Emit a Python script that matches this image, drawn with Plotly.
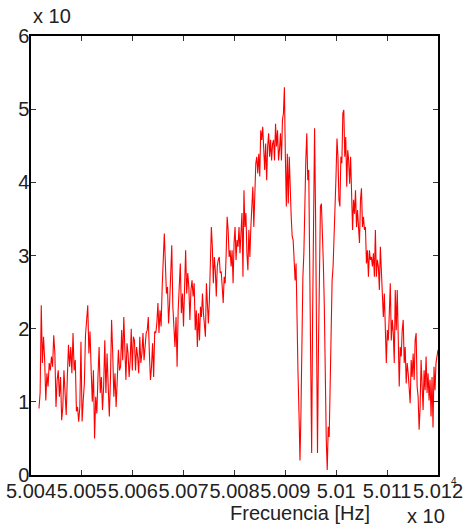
import numpy as np
import plotly.graph_objects as go

# Spectrum amplitude (x 10^n), read in five consecutive frequency bands
amp_band1 = [0.91, 1.12, 2.32, 1.53, 1.89, 1.57, 1.02, 1.39, 1.21, 1.53, 1.43, 1.62, 1.48, 1.91,
             1.66, 0.93, 1.30, 1.43, 1.07, 1.34, 0.75, 0.93, 1.43, 0.98, 0.82, 1.34, 1.78, 1.48,
             1.75, 1.39, 1.94, 1.43, 1.57, 0.87, 0.93, 0.73, 0.93, 1.82, 0.73, 1.02, 1.25, 1.91,
             2.12, 2.32, 1.66, 1.96, 1.43, 1.00, 1.43, 0.50, 1.07, 0.84, 1.34, 1.75, 1.12, 1.34,
             0.89, 1.21, 1.84, 1.12, 1.66, 1.30, 0.80, 1.30, 2.12, 1.66, 1.07, 1.39, 0.93, 1.30,
             1.71]
amp_band2 = [1.43, 1.48, 1.98, 1.57, 2.16, 1.57, 1.30, 1.80, 1.66, 1.34, 1.57, 2.00, 1.43, 1.89,
             1.84, 1.43, 1.75, 1.62, 1.39, 1.89, 1.53, 1.66, 1.94, 1.57, 1.80, 1.94, 1.98, 2.16,
             1.66, 1.30, 1.48, 1.80, 1.34, 1.96, 1.94, 2.07, 2.35, 1.94, 2.25, 2.03, 2.57, 2.85,
             3.30, 2.89, 2.48, 2.57, 2.07, 2.35, 2.76, 3.14, 2.30, 2.03, 1.75, 2.16, 1.48, 2.25,
             2.71, 2.89, 2.21, 2.48, 2.03, 2.76, 3.07, 2.48, 2.76, 2.57, 2.12, 2.53, 2.66, 2.44,
             2.62, 1.98, 2.25, 1.75, 2.21]
amp_band3 = [1.84, 2.30, 2.16, 2.48, 2.21, 2.03, 1.89, 2.62, 2.39, 2.07, 2.39, 2.94, 3.39, 3.12,
             2.62, 2.98, 2.80, 2.44, 2.85, 2.94, 2.98, 2.76, 2.78, 2.57, 2.35, 2.71, 2.62, 3.03,
             3.53, 3.35, 2.98, 3.07, 2.85, 3.07, 2.62, 3.17, 3.39, 2.94, 3.21, 3.12, 3.39, 3.03,
             3.39, 3.58, 2.71, 3.89, 3.39, 3.58, 3.03, 2.80, 3.35, 2.98, 3.39, 3.76, 3.94, 3.39,
             4.03, 4.26, 4.35, 4.12, 4.39, 4.08, 4.71, 4.58, 4.76, 4.39, 4.17, 4.53, 4.03, 4.49,
             4.67, 4.35, 4.58, 4.30, 4.53, 4.58, 4.30, 4.80, 4.49, 4.71, 4.30, 4.45]
amp_band4 = [4.67, 4.30, 4.85, 4.94, 5.30, 4.35, 3.67, 4.39, 3.71, 4.35, 3.76, 3.53, 3.26, 3.21,
             2.94, 2.66, 2.89, 1.80, 1.39, 0.84, 0.20, 0.84, 1.98, 2.71, 3.03, 3.98, 4.30, 4.67,
             4.03, 4.17, 2.66, 1.53, 0.30, 2.21, 3.80, 4.74, 3.58, 1.75, 0.30, 1.75, 3.12, 3.67,
             3.71, 3.39, 2.89, 2.30, 1.30, 0.48, 0.07, 0.66, 0.52, 1.30, 2.25, 2.66, 2.85, 3.21,
             3.48, 4.08, 4.60, 4.35, 3.76, 3.67, 4.35, 4.26, 4.94, 4.99, 4.35, 4.62, 3.94, 4.44,
             4.30, 3.98, 4.35, 3.94, 3.35, 3.76]
amp_band5 = [3.57, 3.89, 3.39, 3.62, 3.30, 3.17, 3.76, 3.92, 3.39, 3.53, 3.35, 3.39, 2.89, 3.07,
             2.71, 3.07, 2.94, 2.98, 2.85, 3.03, 2.71, 3.35, 2.71, 2.94, 2.85, 2.53, 3.12, 2.76,
             2.48, 2.16, 2.48, 2.03, 1.53, 1.98, 1.84, 2.21, 2.62, 1.84, 2.12, 1.94, 1.53, 2.53,
             1.98, 2.53, 1.62, 1.21, 1.75, 1.62, 1.98, 2.12, 1.53, 1.75, 1.25, 1.53, 1.39, 1.16,
             0.98, 1.57, 1.34, 1.66, 1.30, 1.84, 1.94, 1.21, 1.07, 0.62, 0.93, 1.57, 1.30, 0.89,
             1.43, 1.16, 1.62, 1.12, 1.39, 1.02, 1.30, 0.80, 1.34, 0.65, 1.48, 1.16, 1.53, 1.66,
             1.71]

# Frequency limits of each band (x 10^n Hz)
band_edges = [5.004157, 5.005740, 5.007312, 5.008904, 5.010359, 5.012000]

x_ticks = [5.004, 5.005, 5.006, 5.007, 5.008, 5.009, 5.010, 5.011, 5.012]
x_tick_text = ["5.004", "5.005", "5.006", "5.007", "5.008", "5.009", "5.01", "5.011", "5.012"]
y_ticks = [0, 1, 2, 3, 4, 5, 6]
y_tick_text = ["0", "1", "2", "3", "4", "5", "6"]

bands = [amp_band1, amp_band2, amp_band3, amp_band4, amp_band5]
freq, amp = [], []
for i, band in enumerate(bands):
    last = i == len(bands) - 1
    f = np.linspace(band_edges[i], band_edges[i + 1], len(band), endpoint=last)
    freq.extend(f.tolist())
    amp.extend(band)

FONT = "Liberation Sans, Arial, sans-serif"
TEXT = "#222222"

W, H = 476, 527
L, R, T, B = 31, 38, 36, 52
PW, PH = W - L - R, H - T - B


def page_to_paper(px, py):
    """Convert a page pixel position to paper coordinates of the plot area."""
    return (px - L) / PW, (H - B - py) / PH


fig = go.Figure()
fig.add_trace(go.Scatter(x=freq, y=amp, mode="lines",
                         line=dict(color="#ff0000", width=1.1), hoverinfo="skip"))

axis_common = dict(
    showgrid=False, zeroline=False, showline=True, linecolor="black", linewidth=1.5,
    mirror="allticks", ticks="inside", ticklen=5, tickwidth=1, tickcolor="#333333",
    tickfont=dict(family=FONT, size=20, color=TEXT), automargin=False,
)
fig.update_xaxes(range=[5.004, 5.012], tickmode="array", tickvals=x_ticks,
                 ticktext=x_tick_text, tickangle=0, ticklabelstandoff=-3, **axis_common)
fig.update_yaxes(range=[0, 6], tickmode="array", tickvals=y_ticks,
                 ticktext=y_tick_text, ticklabelstandoff=-4, **axis_common)


def label(text, px, py, size=20, xanchor="left"):
    x, y = page_to_paper(px, py)
    return dict(text=text, x=x, y=y, xref="paper", yref="paper", showarrow=False,
                xanchor=xanchor, yanchor="middle", font=dict(family=FONT, size=size, color=TEXT))


fig.update_layout(
    width=W, height=H, margin=dict(l=L, r=R, t=T, b=B, autoexpand=False),
    paper_bgcolor="white", plot_bgcolor="white", showlegend=False,
    font=dict(family=FONT, color=TEXT),
    annotations=[
        label("x 10", 31, 16),
        label("Frecuencia [Hz]", 300, 513, xanchor="center"),
        label("x 10", 405, 516),
        label("4", 454, 481, size=10, xanchor="center"),
    ],
)

fig.write_html("out.html")
